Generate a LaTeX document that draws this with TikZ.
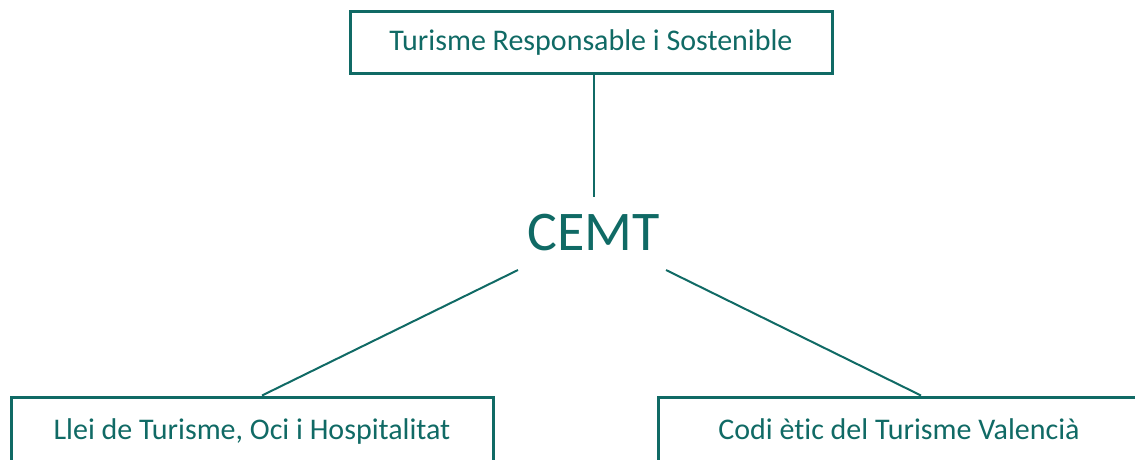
\documentclass[tikz,border=0pt]{standalone}
\usepackage{fontspec}
\setmainfont[Ligatures=NoCommon]{Carlito}
\definecolor{cemtteal}{RGB}{16,106,101}
\tikzset{
  box/.style={draw=cemtteal, line width=3pt, minimum width=482pt, minimum height=62pt,
    text=cemtteal, font=\fontsize{30}{36}\selectfont, inner sep=0pt},
  title/.style={text=cemtteal, font=\fontsize{56}{64}\selectfont, inner sep=0pt},
  link/.style={draw=cemtteal, line width=2pt}
}
\begin{document}
\begin{tikzpicture}[x=1pt,y=-1pt]
            \useasboundingbox (0,0) rectangle (1135,459);
            \node[box] (top) at (591,42) {Turisme Responsable i Sostenible};
            \node[title] (cemt) at (594,233) {CEMT};
            \node[box, minimum height=72pt, text depth=8pt] (llei) at (252,433) {Llei de Turisme, Oci i Hospitalitat};
            \node[box, minimum height=72pt, text depth=8pt] (codi) at (899,433) {Codi ètic del Turisme Valencià};
            \coordinate (cemtup) at (594,197);
            \coordinate (cemtleft) at (518,270);
            \coordinate (cemtright) at (666,270);
            \draw[link] (top.south -| cemtup) -- (cemtup);
            \draw[link] (cemtleft) -- ([xshift=10pt]llei.north);
            \draw[link] (cemtright) -- ([xshift=22pt]codi.north);
        \end{tikzpicture}
\end{document}
